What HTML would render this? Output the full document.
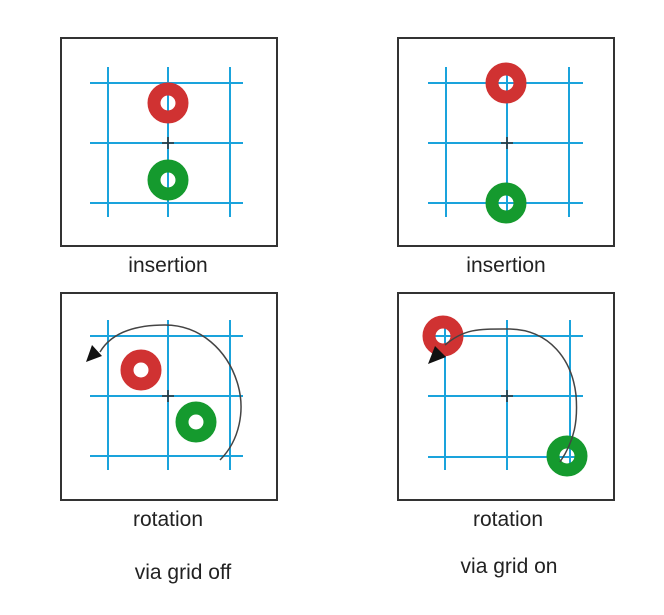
<!DOCTYPE html><html><head><style>body{margin:0;background:#fff}</style></head><body>
<svg width="664" height="610" xmlns="http://www.w3.org/2000/svg" font-family="Liberation Sans, sans-serif">
<rect width="664" height="610" fill="#fff"/>
<g fill="#fff" stroke="#333" stroke-width="2">
<rect x="61" y="38" width="216" height="208"/>
<rect x="398" y="38" width="216" height="208"/>
<rect x="61" y="293" width="216" height="207"/>
<rect x="398" y="293" width="216" height="207"/>
</g>
<g stroke="#1aa3dc" stroke-width="2">
<path d="M108 67V217M168 67V217M230 67V217M90 83H243M90 143H243M90 203H243"/>
<path d="M446 67V217M507 67V217M569 67V217M428 83H583M428 143H583M428 203H583"/>
<path d="M108 320V470M168 320V470M230 320V470M90 336H243M90 396H243M90 456H243"/>
<path d="M445 320V470M507 320V470M570 320V470M428 336H583M428 396H583M428 457H583"/>
</g>
<g stroke="#333" stroke-width="1.5">
<path d="M162 143h12M168 137v12M501 143h12M507 137v12M162 396h12M168 390v12M501 396h12M507 390v12"/>
</g>
<g fill="none" stroke-width="13">
<circle cx="168" cy="103" r="14" stroke="#d03232"/>
<circle cx="168" cy="180" r="14" stroke="#159a2e"/>
<circle cx="506" cy="83" r="14" stroke="#d03232"/>
<circle cx="506" cy="203" r="14" stroke="#159a2e"/>
<circle cx="141" cy="370" r="14" stroke="#d03232"/>
<circle cx="196" cy="422" r="14" stroke="#159a2e"/>
<circle cx="443" cy="336" r="14" stroke="#d03232"/>
<circle cx="567" cy="456" r="14" stroke="#159a2e"/>
</g>
<g fill="none" stroke="#444" stroke-width="1.5">
<path d="M220 460 C240 440 245 410 238 385 C228 350 200 325 165 325 C130 325 110 335 100 352"/>
<path d="M560 462 C575 440 578 420 576 395 C572 360 550 330 510 329 C480 329 465 328 445 345"/>
</g>
<polygon points="86,362 92,345 102,356" fill="#111"/>
<polygon points="428,364 435,346 446,357" fill="#111"/>
<g font-size="21" fill="#222" text-anchor="middle">
<text x="168" y="272">insertion</text>
<text x="506" y="272">insertion</text>
<text x="168" y="526">rotation</text>
<text x="508" y="526">rotation</text>
<text x="183" y="579">via grid off</text>
<text x="509" y="573">via grid on</text>
</g>
</svg>
</body></html>
